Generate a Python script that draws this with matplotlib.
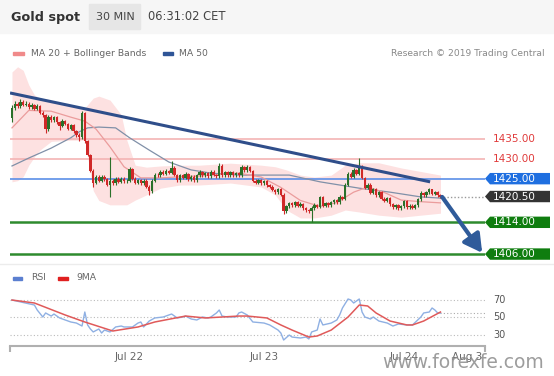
import numpy as np
import matplotlib.pyplot as plt
from matplotlib.patches import Rectangle, Polygon
import matplotlib.transforms as mtransforms

# ---- price data (30 min bars) ----
closes = [
    1442.8, 1443.9, 1443.2, 1444.3, 1443.6, 1443.9, 1443.0, 1443.5, 1442.6, 1443.3,
    1441.6, 1441.0, 1437.4, 1440.6, 1439.8, 1440.5, 1439.3, 1438.3, 1439.6, 1438.8,
    1437.6, 1438.4, 1437.0, 1436.0, 1435.4, 1441.5, 1434.5, 1431.0, 1427.0, 1424.0,
    1425.5, 1424.5, 1425.5, 1424.8, 1423.5, 1424.5, 1423.8, 1425.0, 1424.2, 1425.0,
    1424.3, 1424.5, 1427.5, 1425.0, 1424.0, 1424.6, 1423.8, 1424.5, 1423.0, 1421.8,
    1424.5, 1426.0, 1425.8, 1426.8, 1426.2, 1427.0, 1426.5, 1427.8, 1426.0, 1424.6,
    1425.8, 1425.2, 1426.2, 1424.8, 1425.5, 1424.6, 1425.9, 1426.7, 1425.8, 1426.4,
    1425.6, 1426.8, 1426.0, 1425.6, 1428.3, 1425.8, 1426.6, 1425.9, 1426.6, 1425.9,
    1426.4, 1425.8, 1428.0, 1427.2, 1428.0, 1427.0, 1424.5, 1424.0, 1424.6, 1423.9,
    1424.3, 1423.4, 1423.0, 1422.2, 1421.6, 1422.3, 1421.0, 1416.8, 1418.0, 1418.8,
    1418.3, 1419.0, 1418.2, 1418.6, 1417.5, 1417.0, 1416.8, 1417.6, 1418.4, 1417.9,
    1420.3, 1418.2, 1418.8, 1418.3, 1419.0, 1419.6, 1419.0, 1420.4, 1420.0, 1423.5,
    1426.3, 1425.5, 1427.2, 1426.3, 1428.2, 1425.2, 1422.7, 1423.5, 1421.5, 1422.3,
    1420.8, 1421.6, 1420.0, 1419.4, 1420.1, 1418.6, 1417.8, 1418.3, 1417.6, 1418.0,
    1419.3, 1417.8, 1418.2, 1417.7, 1418.3, 1419.8, 1421.4, 1420.9, 1421.6, 1422.3,
    1421.2, 1421.6, 1420.8, 1420.5]
opens = [1440.2] + closes[:-1]
highs = [
    1443.6, 1444.6, 1444.4, 1445.0, 1444.7, 1444.5, 1444.3, 1444.0, 1443.9, 1443.8,
    1443.6, 1442.0, 1441.3, 1441.0, 1441.1, 1440.9, 1440.8, 1439.6, 1440.0, 1439.9,
    1439.1, 1438.8, 1438.7, 1437.3, 1436.4, 1442.0, 1441.8, 1434.8, 1431.3, 1427.4,
    1425.9, 1425.8, 1425.9, 1425.8, 1425.1, 1430.5, 1424.9, 1425.4, 1425.3, 1425.5,
    1425.3, 1424.9, 1428.0, 1427.8, 1425.3, 1425.0, 1424.9, 1424.9, 1424.8, 1423.3,
    1424.9, 1426.4, 1426.5, 1427.2, 1427.1, 1427.4, 1427.3, 1429.5, 1428.1, 1426.3,
    1426.2, 1426.1, 1426.6, 1426.5, 1425.9, 1425.8, 1426.3, 1427.1, 1427.0, 1426.8,
    1426.7, 1427.2, 1427.1, 1426.3, 1429.0, 1428.6, 1427.0, 1426.9, 1427.0, 1426.9,
    1426.8, 1426.7, 1428.4, 1428.3, 1428.5, 1428.3, 1427.3, 1424.8, 1425.0, 1424.9,
    1424.7, 1424.6, 1423.7, 1423.3, 1422.5, 1422.7, 1422.6, 1421.3, 1418.4, 1419.2,
    1419.1, 1419.4, 1419.3, 1419.0, 1418.9, 1417.8, 1417.3, 1418.0, 1418.8, 1418.7,
    1420.7, 1420.6, 1419.2, 1419.1, 1419.4, 1420.0, 1419.9, 1420.8, 1420.7, 1423.9,
    1426.8, 1426.7, 1427.6, 1427.5, 1430.3, 1428.5, 1425.5, 1423.9, 1423.8, 1422.7,
    1422.6, 1422.0, 1421.9, 1420.3, 1420.5, 1420.4, 1418.9, 1418.7, 1418.6, 1418.4,
    1419.7, 1419.6, 1418.6, 1418.5, 1418.7, 1420.2, 1421.8, 1421.7, 1422.0, 1422.6,
    1422.5, 1422.0, 1421.9, 1421.1]
lows = [
    1439.4, 1442.4, 1442.8, 1442.9, 1443.2, 1443.2, 1442.6, 1442.6, 1442.2, 1442.2,
    1441.2, 1440.6, 1436.5, 1437.0, 1439.4, 1439.4, 1438.9, 1437.3, 1437.9, 1438.4,
    1437.2, 1437.2, 1436.6, 1435.6, 1434.5, 1435.0, 1434.1, 1430.6, 1426.6, 1423.0,
    1423.6, 1424.1, 1424.1, 1424.4, 1423.1, 1420.5, 1423.4, 1423.4, 1423.8, 1423.8,
    1423.9, 1423.9, 1424.1, 1424.6, 1423.6, 1423.6, 1423.4, 1423.4, 1422.6, 1420.9,
    1421.4, 1424.1, 1425.4, 1425.4, 1425.8, 1425.8, 1426.1, 1426.1, 1425.6, 1424.2,
    1424.2, 1424.8, 1424.8, 1424.4, 1424.4, 1424.2, 1424.2, 1425.5, 1425.4, 1425.4,
    1425.2, 1425.2, 1425.6, 1425.2, 1425.2, 1425.4, 1425.4, 1425.5, 1425.5, 1425.5,
    1425.5, 1425.4, 1425.4, 1426.8, 1426.8, 1426.6, 1424.1, 1423.6, 1423.6, 1423.5,
    1423.5, 1423.0, 1422.6, 1421.8, 1421.2, 1421.2, 1420.6, 1416.0, 1416.4, 1417.6,
    1417.9, 1417.9, 1417.8, 1417.8, 1417.1, 1416.6, 1416.4, 1414.2, 1417.2, 1417.5,
    1417.5, 1417.8, 1417.8, 1417.9, 1417.9, 1418.6, 1418.6, 1418.6, 1419.6, 1419.6,
    1423.1, 1425.1, 1425.1, 1425.9, 1425.9, 1424.8, 1422.3, 1422.3, 1421.1, 1421.1,
    1420.4, 1420.4, 1419.6, 1419.0, 1419.0, 1418.2, 1417.4, 1417.4, 1417.2, 1417.2,
    1417.6, 1417.4, 1417.4, 1417.3, 1417.3, 1417.9, 1419.4, 1420.5, 1420.5, 1421.2,
    1420.8, 1420.8, 1420.4, 1420.1]

# Bollinger band / moving averages (bar index, price)
band_idx = [0, 2, 4, 6, 8, 10, 14, 21, 26, 29, 31, 35, 39, 41, 44, 48, 53, 60, 67,
            78, 89, 94, 98, 103, 108, 114, 119, 124, 131, 139, 146, 153]
band_upper = [1451.9, 1453.2, 1452.3, 1448.6, 1446.1, 1445.3, 1444.8, 1443.6, 1442.8,
              1445.3, 1445.8, 1444.8, 1441.1, 1434.7, 1428.4, 1427.9, 1428.2, 1428.4,
              1428.4, 1428.9, 1428.4, 1428.0, 1427.2, 1425.9, 1425.4, 1425.9, 1428.4,
              1429.0, 1429.0, 1427.7, 1426.8, 1425.9]
band_lower = [1424.2, 1424.5, 1425.5, 1428.4, 1430.5, 1432.2, 1434.4, 1434.7, 1434.7,
              1422.0, 1419.5, 1418.4, 1418.4, 1418.4, 1419.6, 1420.9, 1422.6, 1423.4,
              1423.4, 1423.9, 1422.9, 1420.9, 1417.1, 1415.1, 1415.1, 1415.8, 1417.1,
              1416.6, 1415.8, 1415.3, 1415.8, 1416.3]
ma20_idx = [0, 6, 14, 21, 26, 30, 35, 40, 46, 53, 67, 81, 89, 96, 103, 110, 116, 122,
            127, 133, 139, 146, 153]
ma20 = [1437.8, 1442.2, 1442.0, 1440.5, 1439.5, 1437.5, 1433.0, 1428.0, 1425.2, 1425.2,
        1425.7, 1426.4, 1425.4, 1422.8, 1419.5, 1418.0, 1419.0, 1421.6, 1422.9, 1421.5,
        1419.6, 1419.2, 1418.9]
ma50_idx = [0, 6, 14, 21, 24, 27, 31, 37, 42, 49, 56, 64, 71, 81, 89, 99, 110, 124,
            135, 146, 153]
ma50 = [1428.2, 1430.2, 1432.7, 1435.3, 1436.8, 1437.8, 1438.0, 1437.8, 1435.3, 1432.2,
        1429.2, 1427.2, 1426.4, 1425.9, 1425.9, 1425.9, 1424.2, 1422.6, 1421.6, 1420.4,
        1420.1]
trend_idx = [-0.7, 149.3]
trend_price = [1446.6, 1424.2]
arrow_idx = [153.6, 167.9]
arrow_price = [1420.4, 1406.3]

resist = [1435.0, 1430.0]
pivot = 1425.0
last_price = 1420.5
supports = [1414.0, 1406.0]

# RSI panel
rsi_idx = [0, 8, 9, 11, 12, 14, 15, 17, 19, 21, 23, 25, 26, 27, 28, 29, 31, 32, 33, 35,
           37, 39, 40, 43, 45, 46, 47, 49, 51, 54, 56, 57, 59, 61, 62, 64, 66, 68, 70, 71,
           73, 74, 75, 77, 79, 80, 81, 82, 84, 86, 90, 92, 95, 96, 97, 99, 100, 103, 105,
           106, 107, 109, 110, 111, 114, 116, 117, 118, 120, 121, 122, 124, 125, 126, 128,
           129, 131, 134, 136, 138, 141, 143, 146, 147, 149, 150, 151, 152, 153]
rsi = [69.4, 63.7, 58.0, 50.0, 54.6, 51.1, 53.4, 48.9, 46.6, 44.3, 43.1, 39.7, 55.7, 40.9,
       36.3, 32.9, 36.3, 31.7, 35.1, 32.9, 38.6, 39.7, 38.6, 38.6, 43.1, 44.3, 38.6, 45.4,
       48.9, 50.0, 52.3, 53.4, 48.9, 50.0, 51.1, 47.7, 46.6, 50.0, 48.9, 50.0, 54.6, 58.0,
       51.1, 50.0, 50.0, 50.0, 54.6, 55.7, 52.3, 44.3, 43.1, 40.9, 35.1, 31.7, 23.7, 29.4,
       27.1, 26.0, 27.1, 24.9, 32.9, 35.1, 47.7, 40.9, 43.1, 46.6, 52.3, 60.3, 70.6, 69.4,
       66.0, 70.6, 55.7, 50.0, 47.7, 50.0, 45.4, 43.1, 39.7, 42.0, 40.9, 40.9, 50.0, 54.6,
       55.7, 60.3, 58.0, 54.6, 54.6]
ma9_idx = [0, 8, 19, 26, 36, 45, 51, 62, 69, 81, 84, 91, 96, 100, 106, 109, 114, 120,
           124, 127, 130, 135, 141, 143, 147, 153]
ma9 = [69.4, 66.0, 52.3, 44.3, 34.0, 38.6, 44.3, 51.1, 48.9, 51.1, 51.1, 48.9, 40.9, 35.1,
       27.1, 28.3, 35.1, 50.0, 63.7, 62.6, 54.6, 45.4, 40.9, 40.9, 45.4, 55.7]
rsi_levels = [30, 50, 70]
date_pos = [42, 90, 140, 162.5]
date_labels = ['Jul 22', 'Jul 23', 'Jul 24', 'Aug 3']

GREEN = '#2a702a'
RED = '#d02828'
W, H = 554, 376


def fx(x):
    return x / W


def fy(y):
    return 1 - y / H


fig = plt.figure(figsize=(W / 100, H / 100), dpi=100)
fig.patch.set_facecolor('white')

# header
fig.add_artist(Rectangle((0, fy(33)), 1, 33 / H, transform=fig.transFigure,
                         color='#f6f6f6', zorder=0))
fig.add_artist(Rectangle((fx(89), fy(29)), 51 / W, 25 / H, transform=fig.transFigure,
                         color='#e6e6e6', zorder=1))
fig.text(fx(11), fy(17), 'Gold spot', fontsize=9.2, fontweight='bold', color='#333',
         va='center')
fig.text(fx(115), fy(17), '30 MIN', fontsize=8, color='#444', va='center', ha='center')
fig.text(fx(148), fy(17), '06:31:02 CET', fontsize=8.3, color='#444', va='center')

# legend row
fig.add_artist(Rectangle((fx(13), fy(55)), 11 / W, 3 / H, transform=fig.transFigure,
                         color='#f08a8a'))
fig.text(fx(31), fy(53), 'MA 20 + Bollinger Bands', fontsize=6.7, color='#666', va='center')
fig.add_artist(Rectangle((fx(163), fy(55)), 10 / W, 3 / H, transform=fig.transFigure,
                         color='#2f5597'))
fig.text(fx(179), fy(53), 'MA 50', fontsize=6.7, color='#666', va='center')
fig.text(fx(545), fy(53), 'Research \u00a9 2019 Trading Central', fontsize=6.6,
         color='#888', va='center', ha='right')

# main price panel
ax = fig.add_axes([fx(10), fy(262), 475 / W, 200 / H])
ax.set_xlim(-0.714, 168.9)
ax.set_ylim(1404.0, 1454.4)
ax.axis('off')

ax.fill_between(band_idx, band_lower, band_upper, color='#fde1e1', lw=0, zorder=1)
for r in resist:
    ax.axhline(r, color='#f4b4b4', lw=1.2, zorder=2)
ax.axhline(pivot, color='#5b8fe8', lw=1.2, zorder=2)
for s in supports:
    ax.axhline(s, color='#2e8b2e', lw=1.8, zorder=2)
ax.plot(ma50_idx, ma50, color='#8090a8', lw=0.9, zorder=3)
ax.plot(ma20_idx, ma20, color='#eb9c9c', lw=0.9, zorder=3)

x = np.arange(len(closes))
o = np.array(opens)
c = np.array(closes)
cols = np.where(c >= o, GREEN, RED)
ax.vlines(x, lows, highs, colors=cols, lw=0.8, zorder=4)
ax.bar(x, np.maximum(np.abs(c - o), 0.2), bottom=np.minimum(o, c), width=0.85,
       color=cols, lw=0, zorder=5)

ax.plot(trend_idx, trend_price, color='#2f4e8a', lw=2.2, zorder=6,
        solid_capstyle='butt')
ax.plot([x[-1], 168.9], [last_price, last_price], ls=(0, (1, 1.5)), color='#999',
        lw=1, zorder=3)
ax.annotate('', xy=(arrow_idx[1], arrow_price[1]), xytext=(arrow_idx[0], arrow_price[0]),
            arrowprops=dict(arrowstyle='-|>,head_length=0.9,head_width=0.5',
                            color='#2f5b9a', lw=3, mutation_scale=12,
                            shrinkA=0, shrinkB=0),
            annotation_clip=False, zorder=7)

# right-side price tags
tr = mtransforms.blended_transform_factory(fig.transFigure, ax.transData)
hh = 5.7 * 50.4 / 200


def tag(y, label, fc):
    pts = [(fx(485), y), (fx(490), y + hh), (fx(550), y + hh), (fx(550), y - hh),
           (fx(490), y - hh)]
    ax.add_patch(Polygon(pts, closed=True, transform=tr, color=fc, lw=0,
                         clip_on=False, zorder=8))
    ax.text(fx(493), y, label, transform=tr, color='white', fontsize=7.5, va='center',
            clip_on=False, zorder=9)


for r in resist:
    ax.text(fx(493), r, f'{r:.2f}', transform=tr, color='#e03b3b', fontsize=7.5,
            va='center', clip_on=False)
tag(pivot, f'{pivot:.2f}', '#1f6fe0')
tag(last_price, f'{last_price:.2f}', '#333333')
for s in supports:
    tag(s, f'{s:.2f}', '#0f7d0f')

# separator
fig.add_artist(plt.Line2D([0, 1], [fy(264), fy(264)], transform=fig.transFigure,
                          color='#ececec', lw=1))

# RSI legend
fig.add_artist(Rectangle((fx(13), fy(280)), 9 / W, 3 / H, transform=fig.transFigure,
                         color='#5b7fd0'))
fig.text(fx(31), fy(278), 'RSI', fontsize=6.7, color='#666', va='center')
fig.add_artist(Rectangle((fx(58), fy(280)), 10 / W, 3 / H, transform=fig.transFigure,
                         color='#e02020'))
fig.text(fx(76), fy(278), '9MA', fontsize=6.7, color='#666', va='center')

# RSI panel
ax2 = fig.add_axes([fx(10), fy(346), 475 / W, 56 / H])
ax2.set_xlim(-0.714, 168.9)
ax2.set_ylim(16.86, 80.86)
ax2.patch.set_alpha(0)
for s in ['top', 'right', 'left']:
    ax2.spines[s].set_visible(False)
ax2.spines['bottom'].set_color('#b0b0b0')
ax2.spines['bottom'].set_linewidth(1.5)
ax2.set_yticks([])
ax2.set_xticks(date_pos)
ax2.set_xticklabels(date_labels, color='#666', fontsize=7.5)
ax2.tick_params(axis='x', which='major', length=0, pad=4)
ax2.set_xticks([-0.714, 168.9], minor=True)
ax2.tick_params(axis='x', which='minor', length=4, width=1.5, color='#b0b0b0')

tr2 = mtransforms.blended_transform_factory(fig.transFigure, ax2.transData)
for v in rsi_levels:
    ax2.axhline(v, ls=(0, (1, 2)), color='#bbbbbb', lw=0.8, zorder=1)
    ax2.text(fx(493), v, str(v), transform=tr2, color='#555', fontsize=7, va='center',
             clip_on=False)
ax2.plot(rsi_idx, rsi, color='#8fb0e3', lw=1, zorder=3)
ax2.plot(ma9_idx, ma9, color='#e05a5a', lw=1.1, zorder=4)
ax2.plot([rsi_idx[-1], 168.9], [rsi[-1], rsi[-1]], ls=(0, (1, 2)), color='#aaa', lw=0.8)

# watermark sits over the date labels, as in the source image
fig.text(fx(382), fy(363), 'www.forexfe.com', fontsize=13.5, color='#8c8c8c', alpha=0.85,
         va='center', zorder=10)

fig.savefig('out.png', dpi=100)
